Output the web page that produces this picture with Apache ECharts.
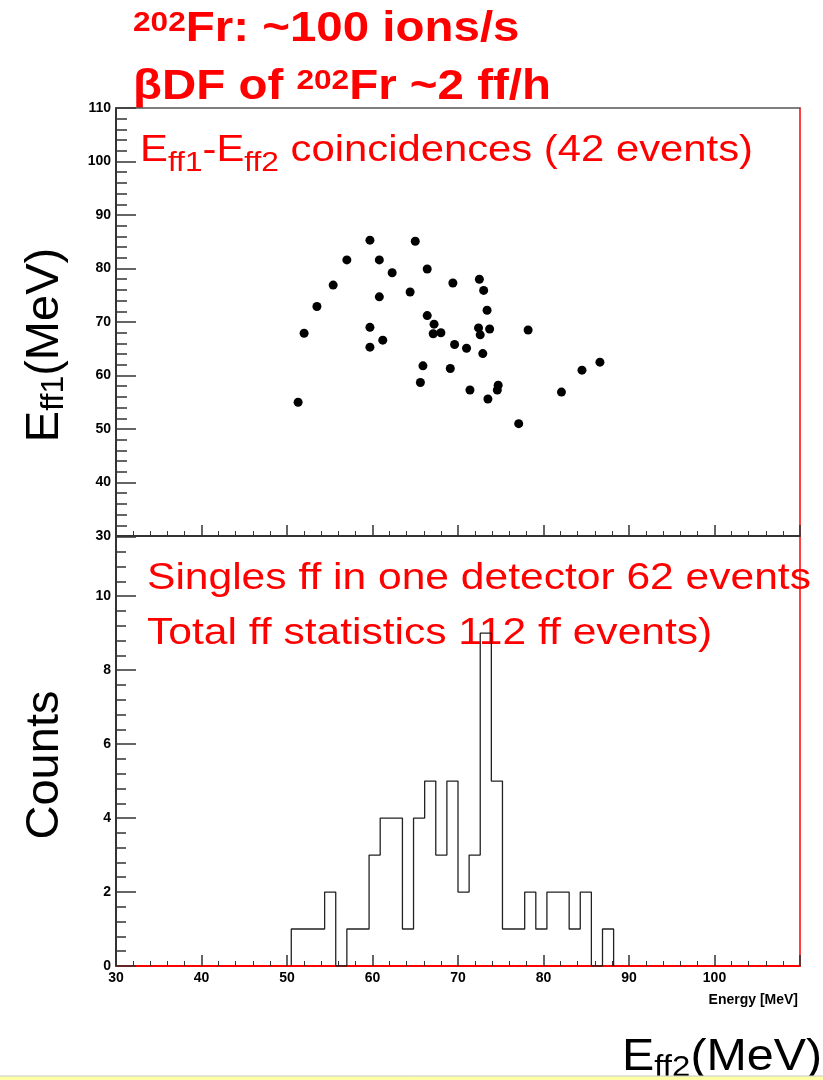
<!DOCTYPE html>
<html>
<head>
<meta charset="utf-8">
<script src="https://cdn.jsdelivr.net/npm/echarts@6/dist/echarts.min.js"></script>
<style>
  html, body { margin: 0; padding: 0; background: #fff; }
  #chart { width: 823px; height: 1080px; }
</style>
</head>
<body>
<div id="chart"></div>
<script>
// Coincidence events: energy of fragment 2 (x) and fragment 1 (y), in MeV
const eff2 = [59.7, 65.0, 57.0, 60.8, 66.4, 62.3, 55.4, 64.4, 60.8, 53.5, 66.4, 67.2, 67.1, 68.0,
              52.0, 59.7, 61.2, 59.7, 69.4, 72.5, 73.0, 73.4, 72.4, 73.7, 72.6, 78.2, 69.6, 71.0,
              72.9, 65.9, 69.1, 84.5, 86.6, 65.6, 71.4, 74.7, 74.6, 73.5, 82.1, 77.1, 51.3];
const eff1 = [85.3, 85.1, 81.6, 81.6, 79.9, 79.2, 76.9, 75.6, 74.7, 72.9, 71.2, 69.6, 67.8, 68.0,
              67.9, 69.0, 66.6, 65.3, 77.3, 78.0, 75.9, 72.2, 68.9, 68.7, 67.6, 68.5, 65.8, 65.1,
              64.1, 61.8, 61.3, 61.0, 62.5, 58.7, 57.3, 58.2, 57.3, 55.6, 56.9, 51.0, 55.0];

// Singles energy spectrum: first bin edge, bin width (MeV) and counts per bin
const binStart = 50.5;
const binWidth = 1.3;
const counts = [1, 1, 1, 2, 0, 1, 1, 3, 4, 4, 1, 4, 5, 3, 5, 2, 3, 9, 5, 1, 1, 2, 1, 2, 2, 1, 2, 0, 1];

// Axis ranges
const energyRange = [30, 110];
const eff1Range = [30, 110];
const countsRange = [0, 11.6];

const RED = '#ff0000';
const AXIS = '#333';
const NARROW = '"Liberation Sans Narrow", "Liberation Sans", Arial, sans-serif';
const TICK_FONT = { fontFamily: NARROW, fontWeight: 'bold', fontSize: 14, color: '#000' };
const SANS = '"Liberation Sans", Arial, sans-serif';

const scatterData = eff2.map((x, i) => [x, eff1[i]]);

// Histogram outline as a stepped line through the bin edges
const histLine = [[binStart, 0]];
counts.forEach((c, i) => histLine.push([binStart + i * binWidth, c]));
histLine.push([binStart + counts.length * binWidth, 0]);

const chart = echarts.init(document.getElementById('chart'), null, { renderer: 'canvas' });

function frameAxis(gridIndex, position, color, width, range) {
  return {
    gridIndex, type: 'value', position, min: range[0], max: range[1],
    axisLine: { show: width > 0, onZero: false, lineStyle: { color, width: width || 1 } },
    axisTick: { show: false }, axisLabel: { show: false },
    splitLine: { show: false }
  };
}

chart.setOption({
  animation: false,
  backgroundColor: '#fff',
  grid: [
    { left: 116, top: 108, width: 684, height: 428 },
    { left: 116, top: 537, width: 684, height: 429 }
  ],
  xAxis: [
    {
      gridIndex: 0, type: 'value', position: 'bottom',
      min: energyRange[0], max: energyRange[1], interval: 10,
      axisLine: { show: true, onZero: false, lineStyle: { color: AXIS, width: 2 } },
      axisTick: { show: true, inside: true, length: 11, lineStyle: { color: AXIS, width: 1.5 } },
      minorTick: { show: true, splitNumber: 5, length: 5, lineStyle: { color: AXIS, width: 1 } },
      axisLabel: { show: false },
      splitLine: { show: false }
    },
    frameAxis(0, 'top', '#555', 1.5, energyRange),
    {
      gridIndex: 1, type: 'value', position: 'bottom',
      min: energyRange[0], max: energyRange[1], interval: 10,
      axisLine: { show: true, onZero: false, lineStyle: { color: RED, width: 2 } },
      axisTick: { show: true, inside: true, length: 11, lineStyle: { color: AXIS, width: 1.5 } },
      minorTick: { show: true, splitNumber: 5, length: 5, lineStyle: { color: AXIS, width: 1 } },
      axisLabel: Object.assign({ margin: 5, showMaxLabel: false }, TICK_FONT),
      splitLine: { show: false }
    },
    frameAxis(1, 'top', '#555', 0, energyRange)
  ],
  yAxis: [
    {
      gridIndex: 0, type: 'value', position: 'left',
      min: eff1Range[0], max: eff1Range[1], interval: 10,
      axisLine: { show: true, onZero: false, lineStyle: { color: AXIS, width: 2 } },
      axisTick: { show: true, inside: true, length: 20, lineStyle: { color: AXIS, width: 1.5 } },
      minorTick: { show: true, splitNumber: 5, length: 11, lineStyle: { color: AXIS, width: 1.5 } },
      axisLabel: Object.assign({ margin: 5 }, TICK_FONT),
      splitLine: { show: false }
    },
    frameAxis(0, 'right', RED, 1.5, eff1Range),
    {
      gridIndex: 1, type: 'value', position: 'left',
      min: countsRange[0], max: countsRange[1], interval: 2,
      axisLine: { show: true, onZero: false, lineStyle: { color: AXIS, width: 2 } },
      axisTick: { show: true, inside: true, length: 20, lineStyle: { color: AXIS, width: 1.5 } },
      minorTick: { show: true, splitNumber: 5, length: 10, lineStyle: { color: AXIS, width: 1.5 } },
      axisLabel: Object.assign({ margin: 5, showMaxLabel: false }, TICK_FONT),
      splitLine: { show: false }
    },
    frameAxis(1, 'right', RED, 1.5, countsRange)
  ],
  series: [
    {
      name: 'Eff1-Eff2', type: 'scatter', xAxisIndex: 0, yAxisIndex: 0,
      data: scatterData, symbol: 'circle', symbolSize: 9,
      itemStyle: { color: '#000', opacity: 1 }, silent: true
    },
    {
      name: 'Singles', type: 'line', xAxisIndex: 2, yAxisIndex: 2,
      data: histLine, step: 'end', symbol: 'none', showSymbol: false,
      lineStyle: { color: '#222', width: 1.3 }, silent: true
    }
  ],
  graphic: [
    // headline
    {
      type: 'text', x: 133, y: 0, scaleX: 1.13,
      style: {
        text: '{s|202}{b|Fr: ~100 ions/s}\n{b|\u03B2DF of }{s|202}{b|Fr ~2 ff/h}',
        fill: RED, align: 'left', verticalAlign: 'top',
        rich: {
          b: { fontSize: 42, fontWeight: 'bold', fontFamily: SANS, fill: RED, lineHeight: 58 },
          s: { fontSize: 28, fontWeight: 'bold', fontFamily: SANS, fill: RED, lineHeight: 28, padding: [0, 0, 12, 0] }
        }
      }
    },
    // coincidence panel label
    {
      type: 'text', x: 140, y: 120.5, scaleX: 1.13,
      style: {
        text: '{m|E}{u|ff1}{m|-E}{u|ff2}{m| coincidences (42 events)}',
        fill: RED, align: 'left', verticalAlign: 'top',
        rich: {
          m: { fontSize: 37, fontFamily: SANS, fill: RED, lineHeight: 60 },
          u: { fontSize: 28, fontFamily: SANS, fill: RED, lineHeight: 28, padding: [26, 0, 0, 0] }
        }
      }
    },
    // singles panel label
    {
      type: 'text', x: 147, y: 551, scaleX: 1.15,
      style: {
        text: 'Singles ff in one detector 62 events\nTotal ff statistics 112 ff events)',
        fill: RED, align: 'left', verticalAlign: 'top',
        fontSize: 37, fontFamily: SANS, lineHeight: 55
      }
    },
    // y axis titles
    {
      type: 'text', x: 45, y: 345, rotation: Math.PI / 2,
      style: {
        text: '{m|E}{u|ff1}{m|(MeV)}', fill: '#000', align: 'center', verticalAlign: 'middle',
        rich: {
          m: { fontSize: 47, fontFamily: SANS, fill: '#000', lineHeight: 60 },
          u: { fontSize: 32, fontFamily: SANS, fill: '#000', lineHeight: 32, padding: [18, 0, 0, 0] }
        }
      }
    },
    {
      type: 'text', x: 45, y: 765, rotation: Math.PI / 2,
      style: {
        text: 'Counts', fill: '#000', align: 'center', verticalAlign: 'middle',
        fontSize: 47, fontFamily: SANS
      }
    },
    // x axis titles
    {
      type: 'text', x: 798, y: 1000,
      style: {
        text: 'Energy [MeV]', fill: '#000', align: 'right', verticalAlign: 'middle',
        fontSize: 14, fontWeight: 'bold', fontFamily: NARROW
      }
    },
    {
      type: 'text', x: 622, y: 1028, scaleX: 1.1,
      style: {
        text: '{m|E}{u|ff2}{m|(MeV)}', fill: '#000', align: 'left', verticalAlign: 'top',
        rich: {
          m: { fontSize: 44, fontFamily: SANS, fill: '#000', lineHeight: 60 },
          u: { fontSize: 30, fontFamily: SANS, fill: '#000', lineHeight: 30, padding: [20, 0, 0, 0] }
        }
      }
    },
    // footer strip
    {
      type: 'rect', z: 100,
      shape: { x: 0, y: 1076, width: 823, height: 4 },
      style: { fill: '#ffffa8', stroke: null }
    },
    {
      type: 'line', z: 101,
      shape: { x1: 0, y1: 1076, x2: 823, y2: 1076 },
      style: { stroke: '#c8c8c8', lineWidth: 1 }
    }
  ]
});
</script>
</body>
</html>
